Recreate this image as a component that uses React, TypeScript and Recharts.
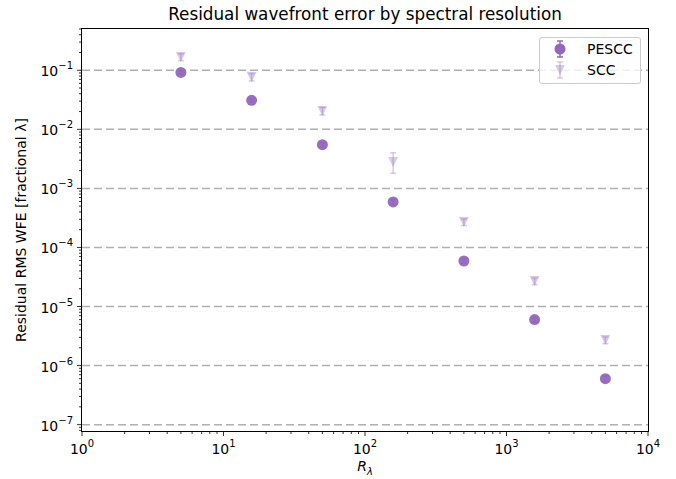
import { ScatterChart, Scatter, XAxis, YAxis, ErrorBar, ReferenceLine } from "recharts";

// spectral resolution R_lambda
const resolution = [5, 15.8, 50, 158, 500, 1580, 5000];

// PESCC residual RMS WFE and its error bars
const pesccWfe = [0.092, 0.031, 0.0055, 0.00059, 5.9e-5, 6.0e-6, 6.0e-7];
const pesccErrLow = [0.006, 0.002, 0.0004, 0.00005, 0.5e-5, 0.6e-6, 0.6e-7];
const pesccErrHigh = [0.006, 0.002, 0.0004, 0.00005, 0.5e-5, 0.6e-6, 0.6e-7];

// SCC residual RMS WFE and its error bars
const sccWfe = [0.168, 0.077, 0.0205, 0.0028, 2.7e-4, 2.7e-5, 2.7e-6];
const sccErrLow = [0.022, 0.011, 0.003, 0.0010, 0.35e-4, 0.35e-5, 0.35e-6];
const sccErrHigh = [0.022, 0.011, 0.003, 0.0012, 0.35e-4, 0.35e-5, 0.35e-6];

const xMajorTicks = [1, 10, 100, 1000, 10000];
const yMajorTicks = [1e-7, 1e-6, 1e-5, 1e-4, 1e-3, 1e-2, 1e-1];
const minorSteps = [2, 3, 4, 5, 6, 7, 8, 9];

const X_DOMAIN = [1, 10000];
const Y_DOMAIN = [7.8e-8, 0.5];

const xTicks = [
  ...xMajorTicks,
  ...xMajorTicks.slice(0, -1).flatMap((d) => minorSteps.map((m) => m * d)),
];
const yTicks = [
  ...yMajorTicks,
  ...[1e-8, ...yMajorTicks]
    .flatMap((d) => minorSteps.map((m) => m * d))
    .filter((v) => v >= Y_DOMAIN[0] && v <= Y_DOMAIN[1]),
];

const PURPLE = "#9467bd";
const FONT = "'DejaVu Sans', sans-serif";

const pesccData = resolution.map((r, i) => ({
  x: r,
  y: pesccWfe[i],
  err: [pesccErrLow[i], pesccErrHigh[i]],
}));
const sccData = resolution.map((r, i) => ({
  x: r,
  y: sccWfe[i],
  err: [sccErrLow[i], sccErrHigh[i]],
}));

function expLabel(v: number) {
  const e = Math.round(Math.log10(v));
  return e < 0 ? "\u2212" + Math.abs(e) : String(e);
}

function XTick(props: any) {
  const { x, y, payload } = props;
  const v = payload.value;
  const major = xMajorTicks.includes(v);
  return (
    <g>
      <line x1={x} x2={x} y1={y} y2={y + (major ? 5 : 3)} stroke="#000" strokeWidth={0.8} />
      {major && (
        <text x={x} y={y + 23} textAnchor="middle" fontSize={14} fontFamily={FONT} fill="#000">
          <tspan>10</tspan>
          <tspan dy={-7} fontSize={10}>{expLabel(v)}</tspan>
        </text>
      )}
    </g>
  );
}

function YTick(props: any) {
  const { x, y, payload } = props;
  const v = payload.value;
  const major = yMajorTicks.includes(v);
  return (
    <g>
      <line x1={x - (major ? 5 : 3)} x2={x} y1={y} y2={y} stroke="#000" strokeWidth={0.8} />
      {major && (
        <text x={x - 9} y={y + 6} textAnchor="end" fontSize={14} fontFamily={FONT} fill="#000">
          <tspan>10</tspan>
          <tspan dy={-7} fontSize={10}>{expLabel(v)}</tspan>
        </text>
      )}
    </g>
  );
}

function Circle(props: any) {
  return <circle cx={props.cx} cy={props.cy} r={5.5} fill={PURPLE} fillOpacity={0.95} />;
}

function TriDown(props: any) {
  const { cx, cy } = props;
  const s = 5;
  return (
    <polygon
      points={`${cx - s},${cy - s} ${cx + s},${cy - s} ${cx},${cy + s}`}
      fill={PURPLE}
      fillOpacity={0.35}
    />
  );
}

function LegendBox() {
  return (
    <div
      style={{
        position: "absolute",
        left: 539,
        top: 37,
        width: 102,
        height: 47,
        boxSizing: "border-box",
        border: "1px solid #cccccc",
        borderRadius: 3,
        background: "rgba(255,255,255,0.8)",
        fontFamily: FONT,
        fontSize: 14,
      }}
    >
      <svg width={102} height={47} style={{ position: "absolute", left: -1, top: -1 }}>
        <g stroke={PURPLE} strokeWidth={1.5}>
          <line x1={21} x2={21} y1={4} y2={20} />
          <line x1={18} x2={24} y1={4} y2={4} />
          <line x1={18} x2={24} y1={20} y2={20} />
        </g>
        <circle cx={21} cy={12} r={5.5} fill={PURPLE} />
        <g stroke={PURPLE} strokeOpacity={0.35} strokeWidth={1.5}>
          <line x1={21} x2={21} y1={25} y2={41} />
          <line x1={18} x2={24} y1={25} y2={25} />
          <line x1={18} x2={24} y1={41} y2={41} />
        </g>
        <polygon points="16,28 26,28 21,38" fill={PURPLE} fillOpacity={0.35} />
        <text x={48} y={17} fontSize={14} fontFamily={FONT} fill="#000">PESCC</text>
        <text x={48} y={38} fontSize={14} fontFamily={FONT} fill="#000">SCC</text>
      </svg>
    </div>
  );
}

export default function App() {
  return (
    <div style={{ position: "absolute", left: 0, top: 0, width: 676, height: 479, background: "#fff" }}>
      <ScatterChart width={676} height={479} margin={{ top: 29, right: 28, bottom: 0, left: 0 }}>
        <XAxis
          dataKey="x"
          type="number"
          scale="log"
          domain={X_DOMAIN}
          allowDataOverflow
          ticks={xTicks}
          interval={0}
          tick={<XTick />}
          tickLine={false}
          axisLine={false}
          tickSize={0}
          tickMargin={0}
          height={48}
        />
        <YAxis
          dataKey="y"
          type="number"
          scale="log"
          domain={Y_DOMAIN}
          allowDataOverflow
          ticks={yTicks}
          interval={0}
          tick={<YTick />}
          tickLine={false}
          axisLine={false}
          tickSize={0}
          tickMargin={0}
          width={82}
        />
        {yMajorTicks.map((v) => (
          <ReferenceLine key={v} y={v} stroke="#b0b0b0" strokeWidth={1.5} strokeDasharray="8 4" />
        ))}
        <Scatter name="SCC" data={sccData} shape={<TriDown />} isAnimationActive={false}>
          <ErrorBar dataKey="err" direction="y" width={3} stroke={PURPLE} strokeOpacity={0.35} strokeWidth={1.5} />
        </Scatter>
        <Scatter name="PESCC" data={pesccData} shape={<Circle />} isAnimationActive={false}>
          <ErrorBar dataKey="err" direction="y" width={3} stroke={PURPLE} strokeWidth={1.5} />
        </Scatter>
      </ScatterChart>

      {/* plot frame */}
      <div
        style={{
          position: "absolute",
          left: 81,
          top: 28,
          width: 568,
          height: 404,
          boxSizing: "border-box",
          border: "1px solid #000",
          pointerEvents: "none",
        }}
      />

      <div
        style={{
          position: "absolute",
          left: 365,
          top: 14,
          transform: "translate(-50%, -50%)",
          whiteSpace: "nowrap",
          fontFamily: FONT,
          fontSize: 16.8,
          color: "#000",
        }}
      >
        Residual wavefront error by spectral resolution
      </div>

      <div
        style={{
          position: "absolute",
          left: 21,
          top: 230,
          transform: "translate(-50%, -50%) rotate(-90deg)",
          whiteSpace: "nowrap",
          fontFamily: FONT,
          fontSize: 14,
          color: "#000",
        }}
      >
        Residual RMS WFE [fractional λ]
      </div>

      <div
        style={{
          position: "absolute",
          left: 365,
          top: 466,
          transform: "translate(-50%, -50%)",
          whiteSpace: "nowrap",
          fontFamily: FONT,
          fontSize: 14,
          fontStyle: "italic",
          color: "#000",
        }}
      >
        R<span style={{ fontSize: 10, position: "relative", top: 4 }}>λ</span>
      </div>

      <LegendBox />
    </div>
  );
}
